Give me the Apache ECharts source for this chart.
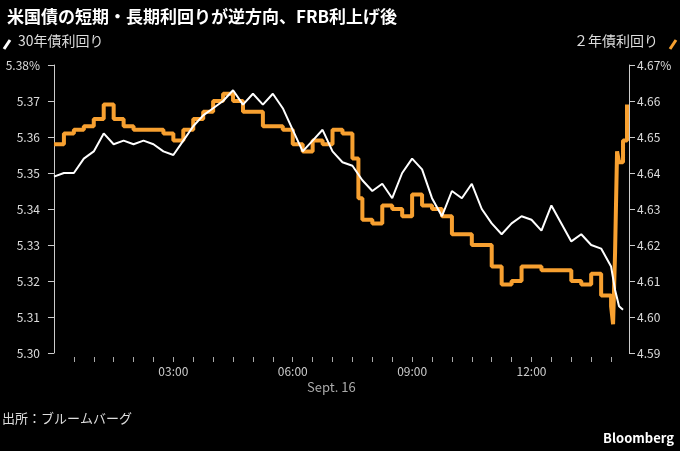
<!DOCTYPE html>
<html><head><meta charset="utf-8">
<script src="https://cdn.jsdelivr.net/npm/echarts@6/dist/echarts.min.js"></script>
<style>html,body{margin:0;background:#000;}#c{width:680px;height:451px;}</style>
</head><body><div id="c"></div>
<script>
const wTimes=[0,0.25,0.5,0.75,1,1.25,1.5,1.75,2,2.25,2.5,2.75,3,3.25,3.5,3.75,4,4.25,4.5,4.75,5,5.25,5.5,5.75,6,6.25,6.5,6.75,7,7.25,7.5,7.75,8,8.25,8.5,8.75,9,9.25,9.5,9.75,10,10.25,10.5,10.75,11,11.25,11.5,11.75,12,12.25,12.5,12.75,13,13.25,13.5,13.75,14,14.1,14.2,14.3];
const y30=[5.349,5.350,5.350,5.354,5.356,5.361,5.358,5.359,5.358,5.359,5.358,5.356,5.355,5.359,5.363,5.366,5.368,5.370,5.373,5.369,5.372,5.369,5.372,5.368,5.362,5.356,5.359,5.362,5.356,5.353,5.352,5.348,5.345,5.347,5.343,5.350,5.354,5.351,5.343,5.338,5.345,5.343,5.347,5.340,5.336,5.333,5.336,5.338,5.337,5.334,5.341,5.336,5.331,5.333,5.330,5.329,5.324,5.3175,5.313,5.312];
const oTimes=[0,0.25,0.5,0.75,1,1.25,1.5,1.75,2,2.25,2.5,2.75,3,3.25,3.5,3.75,4,4.25,4.5,4.75,5,5.25,5.5,5.75,6,6.25,6.5,6.75,7,7.25,7.5,7.65,7.75,8,8.25,8.5,8.75,9,9.25,9.5,9.75,10,10.25,10.5,10.75,11,11.25,11.5,11.75,12,12.25,12.5,12.75,13,13.25,13.5,13.75,14,14.05,14.1,14.15,14.2,14.3,14.4];
const y2=[4.648,4.651,4.652,4.653,4.655,4.659,4.655,4.653,4.652,4.652,4.652,4.651,4.649,4.652,4.655,4.657,4.660,4.662,4.660,4.657,4.657,4.653,4.653,4.652,4.648,4.646,4.649,4.648,4.652,4.651,4.644,4.633,4.627,4.626,4.631,4.630,4.628,4.634,4.631,4.630,4.628,4.623,4.623,4.620,4.620,4.614,4.609,4.610,4.614,4.614,4.613,4.613,4.613,4.610,4.609,4.612,4.606,4.603,4.598,4.618,4.646,4.643,4.649,4.659];
const leftTicks=[5.30,5.31,5.32,5.33,5.34,5.35,5.36,5.37,5.38];
const rightTicks=[4.59,4.60,4.61,4.62,4.63,4.64,4.65,4.66,4.67];
const xTicks=[0.5,1,1.5,2,2.5,3,3.5,4,4.5,5,5.5,6,6.5,7,7.5,8,8.5,9,9.5,10,10.5,11,11.5,12,12.5,13,13.5,14];
const xLabels=[3,6,9,12];
const fmtH=h=>String(h).padStart(2,'0')+':00';
const chart=echarts.init(document.getElementById('c'));
const F='"Noto Sans CJK JP","Noto Sans",sans-serif';
const ax=(min,max,ticks,pos)=>({type:'value',position:pos,min:min,max:max,interval:0.01,
 splitLine:{show:false},axisLine:{show:true,lineStyle:{color:'#ccc',width:1}},
 axisTick:{show:true,length:6,inside:false,lineStyle:{color:'#ccc'}},
 axisLabel:{color:'#ddd',fontSize:12,fontFamily:F,margin:8,
  formatter:v=>{const s=v.toFixed(2);return Math.abs(v-max)<1e-6?s+'%':s;}}});
chart.setOption({backgroundColor:'#000',animation:false,
 grid:{left:48,right:51,top:65,bottom:98},
 title:{text:'米国債の短期・長期利回りが逆方向、FRB利上げ後',left:2,top:3,textStyle:{color:'#fff',fontSize:17,fontWeight:'bold',fontFamily:F}},
 xAxis:{type:'value',min:-0.15,max:14.45,offset:4,axisLine:{show:false},splitLine:{show:false},
  axisTick:{show:true,length:5,customValues:xTicks,lineStyle:{color:'#aaa'}},
  axisLabel:{customValues:xLabels,formatter:fmtH,color:'#ccc',fontSize:12,fontFamily:F,margin:8}},
 yAxis:[ax(5.30,5.38,leftTicks,'left'),ax(4.59,4.67,rightTicks,'right')],
 series:[
  {type:'line',yAxisIndex:1,step:'end',showSymbol:false,data:oTimes.map((t,i)=>[t,y2[i]]),lineStyle:{color:'#f7a030',width:4},z:2},
  {type:'line',yAxisIndex:0,showSymbol:false,data:wTimes.map((t,i)=>[t,y30[i]]),lineStyle:{color:'#fff',width:2},z:3}
 ],
 graphic:[
  {type:'line',shape:{x1:4,y1:49,x2:10,y2:40},style:{stroke:'#fff',lineWidth:3}},
  {type:'text',left:18,top:34,style:{text:'30年債利回り',fill:'#ddd',font:'14px '+F}},
  {type:'text',right:22,top:34,style:{text:'２年債利回り',fill:'#ddd',font:'14px '+F}},
  {type:'line',shape:{x1:670,y1:49,x2:676,y2:40},style:{stroke:'#f7a030',lineWidth:3}},
  {type:'text',left:307,top:381,style:{text:'Sept. 16',fill:'#aaa',font:'13px '+F}},
  {type:'text',left:2,top:412,style:{text:'出所：ブルームバーグ',fill:'#ddd',font:'13px '+F}},
  {type:'text',right:6,top:432,style:{text:'Bloomberg',fill:'#fff',font:'bold 13px '+F}}
 ]});
</script></body></html>
